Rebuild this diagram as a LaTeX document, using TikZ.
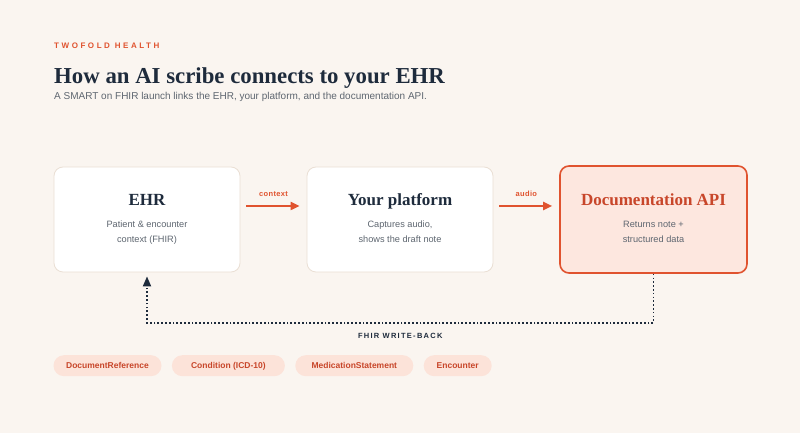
\documentclass[tikz,border=0pt]{standalone}
\usepackage{fontspec}
\setmainfont{Liberation Sans}
\newfontfamily\headserif{Liberation Serif}
\newfontfamily\brandsans{Liberation Sans}[LetterSpace=32]
\newfontfamily\capsans{Liberation Sans}[LetterSpace=17]
\newfontfamily\tagsans{Liberation Sans}[LetterSpace=5]
\usetikzlibrary{positioning,arrows.meta}

\definecolor{bgcream}{HTML}{FAF5F0}
\definecolor{accent}{HTML}{E0532F}
\definecolor{accentdark}{HTML}{C8462A}
\definecolor{navy}{HTML}{1E2B3C}
\definecolor{slate}{HTML}{5E6670}
\definecolor{boxline}{HTML}{EADFD4}
\definecolor{docfill}{HTML}{FDE7DF}
\definecolor{pillfill}{HTML}{FCE3D9}

\tikzset{
  card/.style={draw=boxline, line width=0.8pt, fill=white, rounded corners=9pt,
    minimum width=186pt, minimum height=105pt, inner sep=0pt},
  cardtitle/.style={anchor=base, inner sep=0pt, text=navy,
    font=\headserif\bfseries\fontsize{17}{20}\selectfont},
  carddesc/.style={anchor=north, inner sep=0pt, align=center, text=slate,
    font=\fontsize{9.2}{15}\selectfont},
  flow/.style={draw=accent, line width=2pt, -{Triangle[length=9pt,width=8pt]},
    shorten <=6pt, shorten >=7pt},
  flowlabel/.style={midway, above=8.5pt, inner sep=0pt, text=accent,
    font=\tagsans\bfseries\fontsize{7.5}{9}\selectfont},
  writeback/.style={draw=navy, line width=1.7pt, dash pattern=on 1.7pt off 2.1pt,
    -{Triangle[length=10pt,width=8pt]}, shorten >=4pt},
  pill/.style={fill=pillfill, rounded corners=10.5pt, minimum height=21pt,
    inner xsep=0pt, inner ysep=0pt, text height=6.2pt, text depth=0pt,
    text=accentdark, font=\bfseries\fontsize{8.5}{10}\selectfont},
}

\begin{document}
\begin{tikzpicture}[x=1pt, y=1pt]
  \fill[bgcream] (0,0) rectangle (800,433);
  \useasboundingbox (0,0) rectangle (800,433);

  % heading
  \node[anchor=base west, inner sep=0pt, text=accent,
    font=\brandsans\bfseries\fontsize{8}{10}\selectfont] (brand) at (54,384) {TWOFOLD HEALTH};
  \node[anchor=base west, inner sep=0pt, text=navy,
    font=\headserif\bfseries\fontsize{22.8}{26}\selectfont] (title) at (54,349)
    {How an AI scribe connects to your EHR};
  \node[anchor=base west, inner sep=0pt, text=slate,
    font=\fontsize{10}{12}\selectfont] (subtitle) at (54,333)
    {A SMART on FHIR launch links the EHR, your platform, and the documentation API.};

  % the three systems
  \node[card] (ehr) at (147,213.5) {};
  \node[card] (platform) at (400,213.5) {};
  \node[card, draw=accent, line width=1.6pt, fill=docfill,
    minimum width=187pt, minimum height=107pt] (docapi) at (653.5,213.5) {};

  \node[cardtitle] (ehrT) at ([yshift=13.5pt]ehr.center) {EHR};
  \node[carddesc] (ehrD) at ([yshift=-1.2pt]ehr.center) {Patient \& encounter\\context (FHIR)};
  \node[cardtitle] (platformT) at ([yshift=13.5pt]platform.center) {Your platform};
  \node[carddesc] (platformD) at ([yshift=-1.2pt]platform.center) {Captures audio,\\shows the draft note};
  \node[cardtitle, text=accentdark] (docapiT) at ([yshift=13.5pt]docapi.center) {Documentation API};
  \node[carddesc] (docapiD) at ([yshift=-1.2pt]docapi.center) {Returns note +\\structured data};

  % flows
  \draw[flow] ([yshift=13.5pt]ehr.east) -- ([yshift=13.5pt]platform.west) node[flowlabel] {context};
  \draw[flow] ([yshift=13.5pt]platform.east) -- ([yshift=13.5pt]docapi.west) node[flowlabel] {audio};

  % write-back loop
  \draw[writeback] (docapi.south) -- ++(0,-49) coordinate (wbcorner)
    -- (wbcorner -| ehr.south)
       node[midway, below=10pt, inner sep=0pt, text=navy,
         font=\capsans\bfseries\fontsize{7.5}{9}\selectfont] (wblabel) {FHIR WRITE-BACK}
    -- (ehr.south);

  % FHIR resources
  \node[pill, anchor=west, minimum width=108pt] (docref) at (53.3,67.3) {DocumentReference};
  \node[pill, right=10pt of docref, minimum width=113pt] (condition) {Condition (ICD-10)};
  \node[pill, right=10pt of condition, minimum width=118pt] (medstat) {MedicationStatement};
  \node[pill, right=10pt of medstat, minimum width=68pt] (encounter) {Encounter};
\end{tikzpicture}
\end{document}
